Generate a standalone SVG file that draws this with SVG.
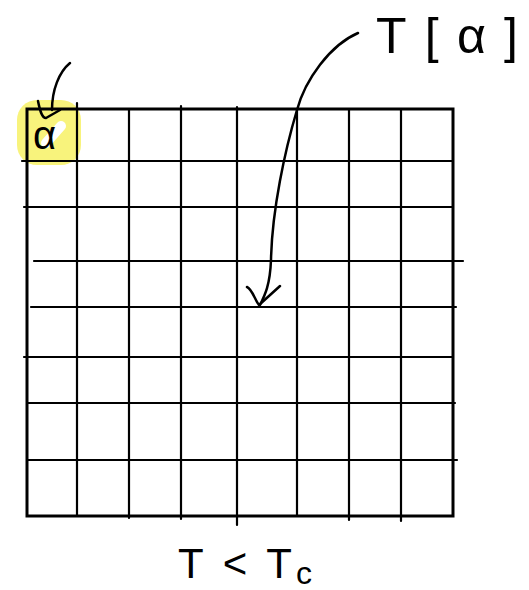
<svg xmlns="http://www.w3.org/2000/svg" width="529" height="590" viewBox="0 0 529 590">
<style>
.g{stroke:#000;stroke-width:2.2;fill:none;stroke-linecap:round}
.b{stroke:#000;stroke-width:3;fill:none;stroke-linejoin:miter}
.ink{stroke:#000;stroke-width:2.5;fill:none;stroke-linecap:round;stroke-linejoin:round}
.t{font-family:"Liberation Sans",Arial,sans-serif;fill:#000}
</style>
<rect width="529" height="590" fill="#fff"/>
<g id="highlight">
<rect x="17" y="100" width="64" height="65" rx="20" fill="#f8f37c"/>
<path d="M46,143 L61,126" stroke="#fff" stroke-width="10" stroke-linecap="round"/>
</g>
<g id="grid">
<rect class="b" x="27" y="109" width="426" height="407"/>
<path class="g" d="M77,103V516M129,109V518M181,106V519M237,107V525M297,109V516M349,109V520M401,109V521"/>
<path class="g" d="M22,161H453M24,207H453M34,261H463M31,307H456M24,357H453M28,403H455M28,460H457"/>
</g>
<g id="alpha-cell">
<text class="t" x="33" y="149" font-size="40">α</text>
</g>
<g id="t-alpha">
<text class="t" x="376" y="53" font-size="50" textLength="142" lengthAdjust="spacing">T[α]</text>
</g>
<g id="t-label">
<text class="t" x="178" y="578" font-size="42" textLength="114" lengthAdjust="spacing">T&lt;T</text>
<text class="t" x="296" y="584" font-size="32">c</text>
</g>
<g id="connectors">
<path class="ink" d="M70,63 C59,72 52,90 52,110"/>
<path class="ink" d="M38,101 C40,111 42,118 46,118 L60,110"/>
<path class="ink" d="M358,33 C330,45 305,80 297,110 C285,150 272,210 271,260 C270,285 265,295 260,305"/>
<path class="ink" d="M247,287 C252,289 255,300 259,305 L280,286"/>
</g>
</svg>
